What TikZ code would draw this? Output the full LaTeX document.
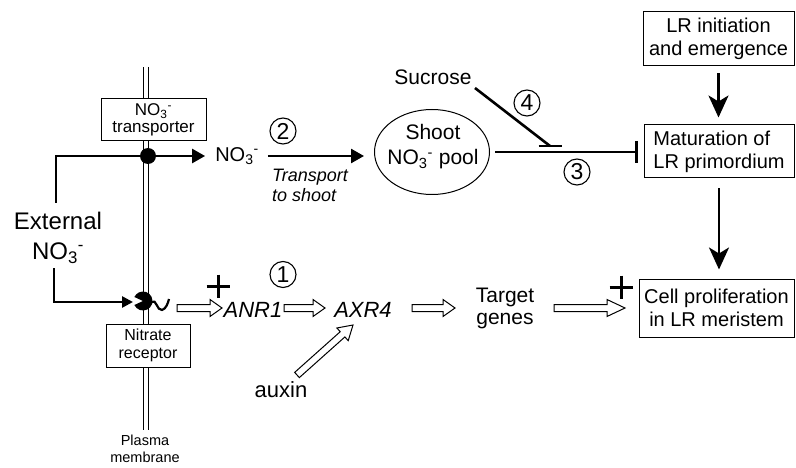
\documentclass[tikz,border=0pt]{standalone}
\usepackage{fontspec}
\setmainfont{Liberation Sans}
\usetikzlibrary{arrows.meta,calc,shapes.geometric}
\newcommand{\nthree}{NO\textsubscript{3}\textsuperscript{-}}
\newcommand{\fsz}[2]{\fontsize{#1}{#2}\selectfont}
\pgfkeys{/tikz/hlen/.store in=\hlen, /tikz/hlen=12pt}
\begin{document}
\begin{tikzpicture}[x=1pt,y=-1pt,
  box/.style={draw,line width=1pt,fill=white,align=center,inner sep=0pt},
  lbl/.style={align=center,inner sep=0pt},
  circnum/.style={circle,draw,line width=1.1pt,minimum size=26pt,inner sep=0pt,font=\fsz{23}{23}},
  flow/.style={line width=2.6pt,-{Triangle[length=13pt,width=14pt]}},
  smallflow/.style={line width=2.6pt,-{Triangle[length=11pt,width=11pt]}},
  bigflow/.style={line width=2.6pt,-{Stealth[length=22pt,width=20pt,inset=6pt]}},
  inhibit/.style={line width=2.6pt,-{Bar[width=22pt,line width=2.8pt]}},
  membrane/.style={double,double distance=4.6pt,line width=1.1pt},
  hollow/.style={draw,fill=white,line width=1pt,line join=miter,
    to path={($(\tikztostart)!3.5pt!90:(\tikztotarget)$)
      -- ($($(\tikztotarget)!\hlen!(\tikztostart)$)!3.5pt!90:(\tikztotarget)$)
      -- ($($(\tikztotarget)!\hlen!(\tikztostart)$)!8.5pt!90:(\tikztotarget)$)
      -- (\tikztotarget)
      -- ($($(\tikztotarget)!\hlen!(\tikztostart)$)!8.5pt!-90:(\tikztotarget)$)
      -- ($($(\tikztotarget)!\hlen!(\tikztostart)$)!3.5pt!-90:(\tikztotarget)$)
      -- ($(\tikztostart)!3.5pt!-90:(\tikztotarget)$) -- cycle}},
  plus/.pic={\draw[line width=3pt] (-11.5,0) -- (11.5,0) (0,-11.5) -- (0,11.5);}
]
\useasboundingbox (0,0) rectangle (796,468);

% plasma membrane
\coordinate (memtop) at (146,67);
\coordinate (membot) at (146,430);
\draw[membrane] (memtop) -- (membot);

% external nitrate and its two routes across the membrane
\node[lbl,font=\fsz{24}{30}] (ext) at (58,238) {External\\\nthree};
\node[lbl,font=\fsz{20}{20}] (no3) at (237,156) {\nthree};
\coordinate (extup) at (56,203);
\coordinate (extdn) at (54,268);
\coordinate (rcvin) at (133,302);
\draw[flow,shorten >=10pt] (extup) |- (no3.west);
\draw[smallflow] (extdn) |- (rcvin);
\node[circle,fill,inner sep=0pt,minimum size=16pt] (carrier) at (148,156) {};

% receptor protein
\fill (143,301) -- ++(155:9.5) arc[start angle=155,end angle=-155,radius=9.5] -- cycle;
\draw[line width=2.2pt] (152,302) .. controls (156,298) and (157,311) .. (162,310)
  .. controls (166,309) and (168,303) .. (169,299);

\node[box,minimum width=105pt,minimum height=42pt,font=\fsz{17}{17}] (tp) at (153.5,120) {\nthree\\transporter};
\node[box,minimum width=84pt,minimum height=43pt,font=\fsz{16}{18}] (rec) at (148,345.5) {Nitrate\\receptor};
\node[lbl,font=\fsz{14.5}{17}] (pm) at (145,449) {Plasma\\membrane};

% transport to the shoot
\node[circnum] (n2) at (283,131) {2};
\node[lbl,font=\fsz{18}{20}\itshape,align=left,anchor=west] (trans) at (272,185) {Transport\\to shoot};
\node[draw,ellipse,line width=1pt,minimum width=115pt,minimum height=85pt,inner sep=0pt] (pool) at (432,152) {};
\node[lbl,font=\fsz{21}{25}] (pooltxt) at (433,147) {Shoot\\\nthree{} pool};
\draw[flow,shorten <=9pt,shorten >=10pt] (no3.east) -- (no3.east -| pool.west);

% shoot signal and sucrose
\node[lbl,font=\fsz{21}{21}] (suc) at (433,77) {Sucrose};
\coordinate (sucfrom) at (475,88);
\coordinate (sucbar) at (550,146);
\draw[line width=2.6pt] (sucfrom) -- (sucbar);
\draw[line width=2.8pt] ([xshift=-11.5pt]sucbar) -- ([xshift=11.5pt]sucbar);
\node[circnum] (n4) at (527,103) {4};
\node[circnum] (n3) at (577,172) {3};

% lateral root development
\node[box,minimum width=151pt,minimum height=54pt,font=\fsz{20}{23}] (lrinit) at (718.5,39) {LR initiation\\and emergence};
\node[box,minimum width=150pt,minimum height=53pt,font=\fsz{20}{23},align=left] (mat) at (719,151.5) {Maturation of\\LR primordium};
\node[box,minimum width=155pt,minimum height=58pt,font=\fsz{20}{23}] (cell) at (716.5,308) {Cell proliferation\\in LR meristem};
\draw[inhibit,shorten <=5pt,shorten >=6pt] (pool.east) -- (mat.west |- pool.east);
\draw[bigflow,shorten <=7pt,shorten >=7pt] (lrinit.south) -- (lrinit.south |- mat.north);
\draw[bigflow,shorten <=10pt,shorten >=9pt] (mat.south) -- (mat.south |- cell.north);

% local signalling pathway
\node[circnum] (n1) at (283,274.5) {1};
\node[lbl,font=\fsz{22}{22}\itshape] (anr) at (253,310) {ANR1};
\node[lbl,font=\fsz{22}{22}\itshape] (axr) at (363,310) {AXR4};
\node[lbl,font=\fsz{21}{22}] (tg) at (505,308) {Target\\genes};
\node[lbl,font=\fsz{22}{22}] (aux) at (281,390) {auxin};
\pic at (218,286) {plus};
\pic at (621,287) {plus};

\coordinate (h1a) at (177,308); \coordinate (h1b) at (222,308);
\coordinate (h2a) at (284,308); \coordinate (h2b) at (325,308);
\coordinate (h3a) at (412,308); \coordinate (h3b) at (455,308);
\coordinate (h4a) at (554,308); \coordinate (h4b) at (625,308);
\coordinate (h5a) at (297,375); \coordinate (h5b) at (353,325);
\draw[hollow] (h1a) to (h1b);
\draw[hollow] (h2a) to (h2b);
\draw[hollow] (h3a) to (h3b);
\draw[hollow,hlen=18pt] (h4a) to (h4b);
\draw[hollow,hlen=14pt] (h5a) to (h5b);
\end{tikzpicture}
\end{document}
